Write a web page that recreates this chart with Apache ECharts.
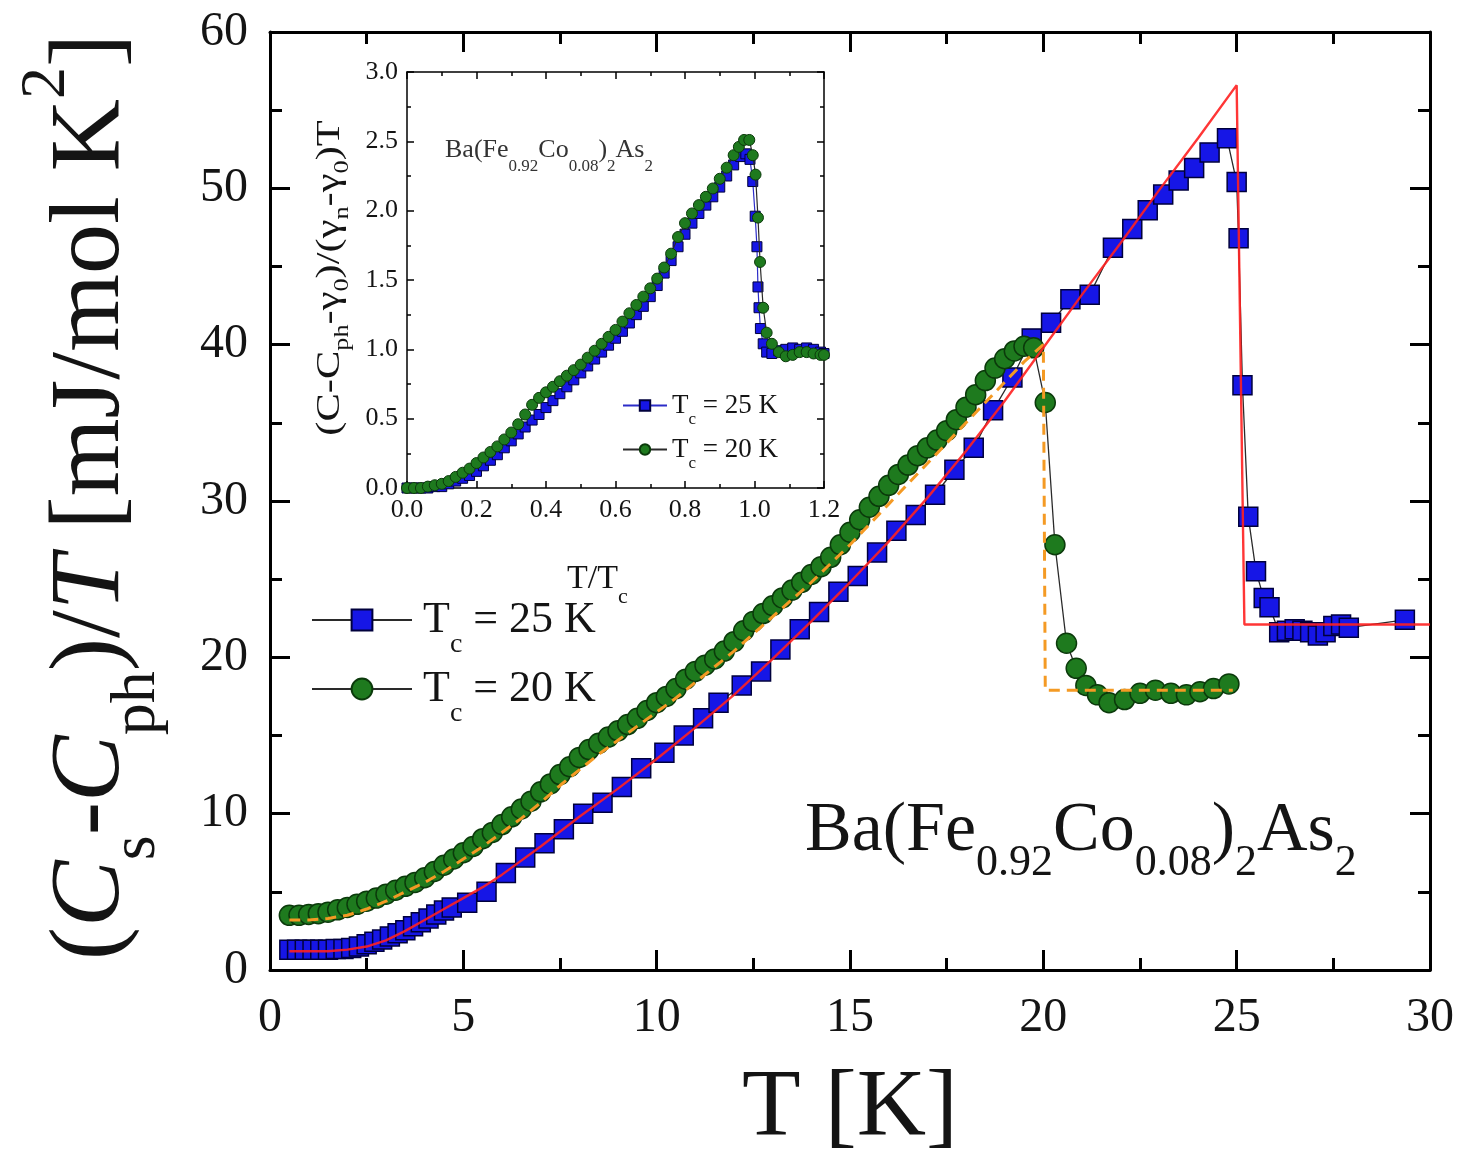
<!DOCTYPE html>
<html>
<head>
<meta charset="utf-8">
<title>Ba(Fe0.92Co0.08)2As2 electronic specific heat</title>
<script src="https://cdn.jsdelivr.net/npm/echarts@6.0.0/dist/echarts.min.js"></script>
<style>
  html, body { margin: 0; padding: 0; background: #fff; }
  #box { width: 1463px; height: 1160px; }
</style>
</head>
<body>
<div id="box"></div>
<script>
// main panel: [T (K), (Cs-Cph)/T (mJ/mol K^2)]
var tc25Points = [
  [0.5,1.3],[0.7,1.3],[0.9,1.3],[1.1,1.3],[1.3,1.3],[1.5,1.3],[1.7,1.35],[1.9,1.35],[2.1,1.4],[2.3,1.5],
  [2.5,1.65],[2.7,1.8],[2.9,1.95],[3.1,2.15],[3.3,2.35],[3.5,2.55],[3.7,2.8],[3.9,3.05],[4.1,3.3],[4.3,3.55],
  [4.5,3.8],[4.7,4.0],[5.1,4.3],[5.6,5.0],[6.1,6.2],[6.6,7.2],[7.1,8.1],[7.6,9.0],[8.1,10.0],[8.6,10.7],
  [9.1,11.7],[9.6,12.9],[10.2,13.9],[10.7,15.0],[11.2,16.1],[11.6,17.1],[12.2,18.2],[12.7,19.1],[13.2,20.5],[13.7,21.8],
  [14.2,22.9],[14.7,24.2],[15.2,25.2],[15.7,26.7],[16.2,28.1],[16.7,29.1],[17.2,30.4],[17.7,32.0],[18.2,33.4],[18.7,35.8],
  [19.2,37.9],[19.7,40.4],[20.2,41.4],[20.7,42.9],[21.2,43.2],[21.8,46.2],[22.3,47.4],[22.7,48.6],[23.1,49.6],[23.5,50.5],
  [23.9,51.3],[24.3,52.3],[24.75,53.2],[25.0,50.4],[25.05,46.8],[25.15,37.4],[25.3,29.0],[25.5,25.5],[25.7,23.8],[25.85,23.2],
  [26.1,21.6],[26.3,21.7],[26.5,21.8],[26.7,21.7],[26.9,21.6],[27.1,21.4],[27.3,21.6],[27.5,22.0],[27.7,22.1],[27.9,21.9],
  [29.35,22.4]
];
var tc20Points = [
  [0.5,3.5],[0.75,3.5],[1.0,3.55],[1.25,3.6],[1.5,3.7],[1.75,3.85],[2.0,4.0],[2.25,4.2],[2.5,4.4],[2.75,4.6],
  [3.0,4.85],[3.25,5.1],[3.5,5.35],[3.75,5.6],[4.0,5.9],[4.25,6.3],[4.5,6.7],[4.75,7.1],[5.0,7.5],[5.25,7.9],
  [5.5,8.4],[5.75,8.8],[6.0,9.3],[6.25,9.8],[6.5,10.3],[6.75,10.8],[7.0,11.4],[7.25,11.9],[7.5,12.5],[7.75,13.0],
  [8.0,13.6],[8.25,14.1],[8.5,14.5],[8.75,14.9],[9.0,15.3],[9.25,15.7],[9.5,16.1],[9.75,16.6],[10.0,17.1],[10.25,17.5],
  [10.5,18.0],[10.75,18.6],[11.0,19.1],[11.25,19.5],[11.5,19.9],[11.75,20.4],[12.0,21.0],[12.25,21.7],[12.5,22.3],[12.75,22.8],
  [13.0,23.3],[13.25,23.8],[13.5,24.3],[13.75,24.8],[14.0,25.3],[14.25,25.8],[14.5,26.4],[14.75,27.2],[15.0,28.0],[15.25,28.8],
  [15.5,29.6],[15.75,30.3],[16.0,31.0],[16.25,31.7],[16.5,32.3],[16.75,32.9],[17.0,33.4],[17.25,33.9],[17.5,34.5],[17.75,35.2],
  [18.0,36.0],[18.25,36.8],[18.5,37.7],[18.75,38.5],[19.0,39.1],[19.25,39.6],[19.5,39.9],[19.75,39.8],[20.05,36.3],[20.3,27.2],
  [20.6,20.9],[20.85,19.3],[21.1,18.2],[21.4,17.6],[21.7,17.1],[22.1,17.3],[22.5,17.7],[22.9,17.9],[23.3,17.7],[23.7,17.6],
  [24.05,17.8],[24.4,18.0],[24.8,18.3]
];
// model curves
var fit25Points = [
  [0.5,1.2],[1.0,1.2],[1.5,1.2],[2.0,1.3],[2.5,1.5],[3.0,1.9],[3.5,2.5],[4.0,3.2],[4.5,3.9],[5.0,4.6],
  [5.5,5.3],[6.0,6.1],[7.0,7.9],[8.0,9.8],[9.0,11.6],[10.0,13.5],[11.0,15.5],[12.0,17.6],[13.0,19.9],[14.0,22.3],
  [15.0,24.8],[16.0,27.4],[17.0,30.2],[18.0,33.2],[19.0,36.4],[20.0,39.8],[21.0,43.2],[22.0,46.5],[23.0,49.9],[24.0,53.2],
  [25.0,56.6],[25.2,22.1],[30.0,22.1]
];
var fit20Points = [
  [0.5,3.2],[1.0,3.2],[1.5,3.3],[2.0,3.5],[2.5,3.9],[3.0,4.4],[3.5,5.0],[4.0,5.6],[4.5,6.3],[5.0,7.1],
  [5.5,7.9],[6.0,8.8],[6.5,9.7],[7.0,10.7],[7.5,11.8],[8.0,12.8],[8.5,13.8],[9.0,14.7],[9.5,15.6],[10.0,16.5],
  [10.5,17.4],[11.0,18.4],[11.5,19.4],[12.0,20.4],[12.5,21.5],[13.0,22.6],[13.5,23.7],[14.0,24.8],[14.5,26.0],[15.0,27.2],
  [15.5,28.5],[16.0,29.8],[16.5,31.1],[17.0,32.4],[17.5,33.7],[18.0,35.0],[18.5,36.3],[19.0,37.6],[19.5,38.9],[20.0,40.0],
  [20.05,17.9],[24.9,17.9]
];
// inset: [T/Tc, normalised value]
var inset25Points = [
  [0.00,0.0],[0.02,0.0],[0.04,0.0],[0.06,0.0],[0.08,0.01],[0.10,0.01],[0.12,0.03],[0.14,0.05],[0.16,0.07],[0.18,0.09],
  [0.20,0.12],[0.22,0.16],[0.24,0.20],[0.26,0.24],[0.28,0.29],[0.30,0.34],[0.32,0.39],[0.34,0.44],[0.36,0.49],[0.38,0.53],
  [0.40,0.58],[0.42,0.63],[0.44,0.68],[0.46,0.73],[0.48,0.78],[0.50,0.83],[0.52,0.88],[0.54,0.93],[0.56,0.98],[0.58,1.03],
  [0.60,1.08],[0.62,1.13],[0.64,1.19],[0.66,1.25],[0.68,1.31],[0.70,1.38],[0.72,1.46],[0.74,1.55],[0.76,1.64],[0.78,1.74],
  [0.80,1.83],[0.82,1.91],[0.84,1.98],[0.86,2.04],[0.88,2.10],[0.90,2.17],[0.92,2.25],[0.94,2.33],[0.96,2.39],[0.975,2.41],
  [0.987,2.37],[0.995,2.21],[1.002,1.96],[1.007,1.74],[1.01,1.45],[1.013,1.30],[1.017,1.15],[1.025,1.04],[1.035,0.98],[1.05,0.97],
  [1.07,0.99],[1.09,1.0],[1.11,1.01],[1.13,1.0],[1.15,1.01],[1.17,1.0],[1.19,0.98],[1.2,0.97]
];
var inset20Points = [
  [0.00,0.0],[0.02,0.0],[0.04,0.0],[0.06,0.01],[0.08,0.02],[0.10,0.03],[0.12,0.05],[0.14,0.08],[0.16,0.11],[0.18,0.14],
  [0.20,0.18],[0.22,0.22],[0.24,0.26],[0.26,0.30],[0.28,0.35],[0.30,0.40],[0.32,0.46],[0.34,0.53],[0.36,0.60],[0.38,0.65],
  [0.40,0.69],[0.42,0.73],[0.44,0.77],[0.46,0.81],[0.48,0.85],[0.50,0.89],[0.52,0.94],[0.54,0.99],[0.56,1.04],[0.58,1.09],
  [0.60,1.14],[0.62,1.20],[0.64,1.26],[0.66,1.32],[0.68,1.38],[0.70,1.44],[0.72,1.51],[0.74,1.59],[0.76,1.69],[0.78,1.81],
  [0.80,1.91],[0.82,1.98],[0.84,2.04],[0.86,2.10],[0.88,2.16],[0.90,2.23],[0.92,2.31],[0.94,2.40],[0.955,2.46],[0.97,2.51],
  [0.985,2.51],[0.995,2.40],[1.003,2.26],[1.01,1.95],[1.016,1.63],[1.025,1.30],[1.035,1.12],[1.05,1.04],[1.07,0.98],[1.09,0.95],
  [1.11,0.96],[1.13,0.98],[1.15,0.98],[1.17,0.97],[1.19,0.96],[1.2,0.96]
];
var legendNames = {'Tc = 25 K': '25', 'Tc = 20 K': '20', 'inset Tc = 25 K': '25', 'inset Tc = 20 K': '20'};

var serif = 'Liberation Serif';
var ink = '#141414';

// one side of a boxed frame
function frameAxis(grid, pos, min, max, step, big) {
  return {
    gridIndex: grid, type: 'value', position: pos, min: min, max: max, interval: step,
    axisLine: {onZero: false, lineStyle: {color: '#000', width: big ? 3 : 1.5}},
    axisTick: {inside: true, length: big ? 20 : 7, lineStyle: {color: '#000', width: big ? 3 : 1.5}},
    minorTick: {show: true, splitNumber: 2, length: big ? 12 : 4, lineStyle: {color: '#000', width: big ? 3 : 1.5}},
    splitLine: {show: false},
    axisLabel: {
      show: pos === 'bottom' || pos === 'left',
      showMinLabel: true, showMaxLabel: true,
      fontFamily: serif, color: ink,
      fontSize: big ? 48 : 26,
      margin: big ? (pos === 'bottom' ? 24 : 22) : 9,
      formatter: big ? '{value}' : function (v) { return v.toFixed(1); }
    }
  };
}

function legendText(name) {
  return '{f|T}{s|c}{t| = ' + legendNames[name] + ' K}';
}

var myChart = echarts.init(document.getElementById('box'));
var option = {
  animation: false,
  backgroundColor: '#fff',
  grid: [
    {left: 270, top: 32, width: 1160, height: 938},
    {left: 407, top: 72, width: 417, height: 416, show: true, backgroundColor: '#fff', borderWidth: 0}
  ],
  xAxis: [
    frameAxis(0, 'bottom', 0, 30, 5, true),
    frameAxis(0, 'top', 0, 30, 5, true),
    frameAxis(1, 'bottom', 0, 1.2, 0.2, false),
    frameAxis(1, 'top', 0, 1.2, 0.2, false)
  ],
  yAxis: [
    frameAxis(0, 'left', 0, 60, 10, true),
    frameAxis(0, 'right', 0, 60, 10, true),
    frameAxis(1, 'left', 0, 3, 0.5, false),
    frameAxis(1, 'right', 0, 3, 0.5, false)
  ],
  legend: [
    {
      data: ['Tc = 25 K', 'Tc = 20 K'], orient: 'vertical', left: 306, top: 593,
      itemWidth: 100, itemHeight: 26, itemGap: 8, selectedMode: false,
      formatter: legendText,
      textStyle: {
        fontFamily: serif, fontSize: 44, color: ink,
        rich: {
          f: {fontFamily: serif, fontSize: 44, lineHeight: 78, color: ink, padding: [0, 0, 0, 6]},
          t: {fontFamily: serif, fontSize: 44, lineHeight: 78, color: ink},
          s: {fontFamily: serif, fontSize: 28, lineHeight: 10, verticalAlign: 'bottom', color: ink}
        }
      }
    },
    {
      data: ['inset Tc = 25 K', 'inset Tc = 20 K'], orient: 'vertical', left: 617, top: 387,
      itemWidth: 44, itemHeight: 13, itemGap: 8, selectedMode: false,
      formatter: legendText,
      textStyle: {
        fontFamily: serif, fontSize: 27, color: ink,
        rich: {
          f: {fontFamily: serif, fontSize: 27, lineHeight: 45, color: ink},
          t: {fontFamily: serif, fontSize: 27, lineHeight: 45, color: ink},
          s: {fontFamily: serif, fontSize: 17, lineHeight: 10, verticalAlign: 'bottom', color: ink}
        }
      }
    }
  ],
  graphic: [
    {
      type: 'text', x: 92, y: 497, rotation: Math.PI / 2,
      style: {
        text: '{n|(}{i|C}{b|s}{n|-}{i|C}{b|ph}{n|)/}{i|T}{n| [mJ/mol K}{p|2}{n|]}',
        align: 'center', verticalAlign: 'middle', fill: ink,
        rich: {
          n: {fontFamily: serif, fontSize: 100, lineHeight: 154, fill: ink},
          i: {fontFamily: serif, fontSize: 100, lineHeight: 154, fontStyle: 'italic', fill: ink},
          b: {fontFamily: serif, fontSize: 64, lineHeight: 10, verticalAlign: 'bottom', fill: ink},
          p: {fontFamily: serif, fontSize: 64, lineHeight: 10, verticalAlign: 'top', fill: ink}
        }
      }
    },
    {
      type: 'text', x: 850, y: 1110,
      style: {text: 'T [K]', fontFamily: serif, fontSize: 96, fill: ink, align: 'center', verticalAlign: 'middle'}
    },
    {
      type: 'text', x: 805, y: 832,
      style: {
        text: '{n|Ba(Fe}{b|0.92}{n|Co}{b|0.08}{n|)}{b|2}{n|As}{b|2}',
        align: 'left', verticalAlign: 'middle', fill: ink,
        rich: {
          n: {fontFamily: serif, fontSize: 70, lineHeight: 106, fill: ink},
          b: {fontFamily: serif, fontSize: 44, lineHeight: 10, verticalAlign: 'bottom', fill: ink}
        }
      }
    },
    {
      type: 'text', x: 445, y: 150,
      style: {
        text: '{n|Ba(Fe}{b|0.92}{n|Co}{b|0.08}{n|)}{b|2}{n|As}{b|2}',
        align: 'left', verticalAlign: 'middle', fill: '#333',
        rich: {
          n: {fontFamily: serif, fontSize: 26, lineHeight: 51, fill: '#333'},
          b: {fontFamily: serif, fontSize: 17, lineHeight: 10, verticalAlign: 'bottom', fill: '#333'}
        }
      }
    },
    {
      type: 'text', x: 330, y: 278, rotation: Math.PI / 2, scaleX: 1.25,
      style: {
        text: '{n|(C-C}{b|ph}{n|-\u03b3}{b|0}{n|)/(\u03b3}{b|n}{n|-\u03b3}{b|0}{n|)T}',
        align: 'center', verticalAlign: 'middle', fill: ink,
        rich: {
          n: {fontFamily: serif, fontSize: 34, lineHeight: 46, fill: ink},
          b: {fontFamily: serif, fontSize: 21, lineHeight: 10, verticalAlign: 'bottom', fill: ink}
        }
      }
    },
    {
      type: 'text', x: 567, y: 579,
      style: {
        text: '{n|T/T}{b|c}',
        align: 'left', verticalAlign: 'middle', fill: ink,
        rich: {
          n: {fontFamily: serif, fontSize: 34, lineHeight: 58, fill: ink},
          b: {fontFamily: serif, fontSize: 22, lineHeight: 10, verticalAlign: 'bottom', fill: ink}
        }
      }
    }
  ],
  series: [
    {
      name: 'Tc = 25 K', type: 'line', xAxisIndex: 0, yAxisIndex: 0, z: 2,
      data: tc25Points, symbol: 'rect', symbolSize: 19, showAllSymbol: true,
      lineStyle: {color: '#2a2a2a', width: 1.3},
      itemStyle: {color: '#1616e6', borderColor: '#00003c', borderWidth: 1.5}
    },
    {
      name: 'Tc = 20 K', type: 'line', xAxisIndex: 0, yAxisIndex: 0, z: 3,
      data: tc20Points, symbol: 'circle', symbolSize: 20, showAllSymbol: true,
      lineStyle: {color: '#2a2a2a', width: 1.3},
      itemStyle: {color: '#1e7a1e', borderColor: '#0b3a0b', borderWidth: 1.5}
    },
    {
      name: 'fit 20', type: 'line', xAxisIndex: 0, yAxisIndex: 0, z: 4,
      data: fit20Points, symbol: 'none',
      lineStyle: {color: '#f49a24', width: 3, type: [11, 7]}
    },
    {
      name: 'fit 25', type: 'line', xAxisIndex: 0, yAxisIndex: 0, z: 5,
      data: fit25Points, symbol: 'none',
      lineStyle: {color: '#ff2020', width: 2.4, opacity: 0.9}
    },
    {
      name: 'inset Tc = 25 K', type: 'line', xAxisIndex: 2, yAxisIndex: 2, z: 6,
      data: inset25Points, symbol: 'rect', symbolSize: 10, showAllSymbol: true,
      lineStyle: {color: '#2c2cc8', width: 1.2},
      itemStyle: {color: '#1616e6', borderColor: '#00003c', borderWidth: 1}
    },
    {
      name: 'inset Tc = 20 K', type: 'line', xAxisIndex: 2, yAxisIndex: 2, z: 7,
      data: inset20Points, symbol: 'circle', symbolSize: 11, showAllSymbol: true,
      lineStyle: {color: '#2a2a2a', width: 1.2},
      itemStyle: {color: '#1e7a1e', borderColor: '#0b3a0b', borderWidth: 1}
    }
  ]
};
myChart.setOption(option);
</script>
</body>
</html>
